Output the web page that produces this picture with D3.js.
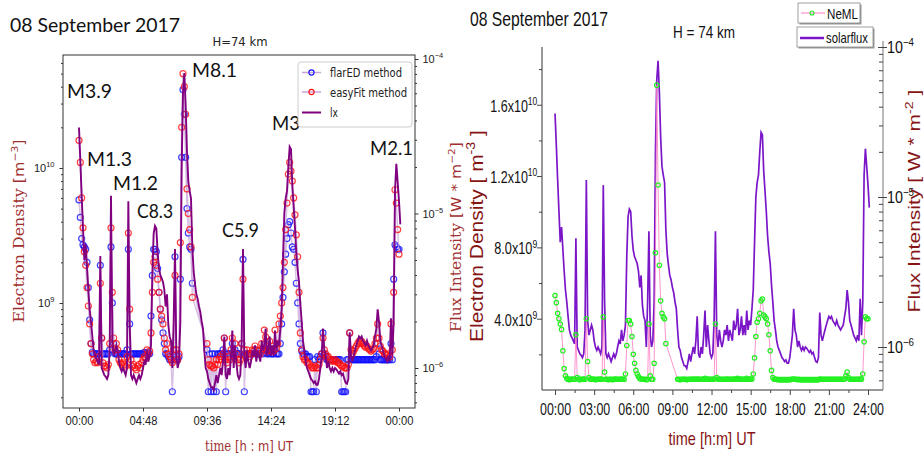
<!DOCTYPE html>
<html>
<head>
<meta charset="utf-8">
<script src="https://cdn.jsdelivr.net/npm/d3@7"></script>
<style>
body { margin: 0; background: #fff; }
svg { display: block; }
</style>
</head>
<body>
<script>
/* ---------- data (one sample every 0.1 h from 00:00) ---------- */
var hourStep = 0.1;

// GOES X-ray flux, units of 1e-6 W m^-2
var fluxIx = [
  36, 22, 13, 8, 5, 6.3, 4.5, 3.2, 2.4, 2.0,
  1.6, 1.3, 1.2, 1.15, 1.1, 1.05, 5.3, 1.0, 0.95, 0.9,
  0.88, 0.85, 0.9, 1.3, 13, 1.5, 1.2, 1.3, 1.4, 1.3,
  1.1, 1.0, 0.95, 1.0, 0.95, 0.9, 1.0, 12, 2.0, 0.9,
  0.85, 0.9, 0.85, 0.8, 0.85, 0.9, 0.85, 0.9, 1.0, 1.1,
  1.05, 1.3, 1.1, 1.2, 1.4, 4.0, 7.4, 8.3, 8.0, 5.5,
  4.4, 4.0, 3.8, 3.6, 3.2, 2.5, 3.0, 1.9, 1.6, 1.5,
  1.0, 2.0, 5.9, 1.2, 1.0, 1.1, 2.0, 20, 60, 81,
  50, 25, 16, 14, 12.5, 6, 4.2, 3.5, 3.0, 2.8,
  2.5, 2.3, 2.0, 1.8, 1.3, 1.0, 0.95, 0.85, 0.8, 0.75,
  0.75, 0.72, 0.8, 0.9, 0.8, 0.9, 1.0, 0.9, 1.1, 1.6,
  0.9, 0.85, 1.0, 0.9, 1.2, 1.75, 1.0, 1.4, 1.1, 0.9,
  0.85, 0.9, 1.5, 5.9, 1.2, 1.0, 1.3, 1.1, 1.0, 1.1,
  1.3, 1.2, 1.4, 1.1, 1.3, 1.2, 1.1, 1.5, 1.3, 1.4,
  1.8, 1.2, 1.3, 1.6, 1.2, 1.4, 1.2, 1.75, 1.3, 1.5,
  1.4, 1.8, 2.4, 5, 10, 12.5, 14, 20, 27, 26,
  15, 11, 8, 5.5, 4.3, 3.6, 2.6, 2.0, 1.5, 1.3,
  1.1, 1.0, 0.95, 0.9, 0.85, 0.83, 0.8, 0.82, 0.78, 0.78,
  0.85, 1.0, 1.2, 1.8, 1.3, 1.2, 1.0, 1.1, 1.0, 0.95,
  1.0, 0.95, 1.0, 0.98, 0.95, 0.92, 0.95, 0.9, 0.92, 0.85,
  0.8, 0.79, 0.85, 1.7, 1.2, 1.1, 1.2, 1.3, 1.4, 1.5,
  1.6, 1.55, 1.6, 1.5, 1.45, 1.4, 1.5, 1.4, 1.35, 1.3,
  1.35, 1.4, 1.6, 1.8, 2.4, 2.0, 1.5, 1.4, 1.3, 1.2,
  1.15, 1.1, 1.2, 1.1, 2.1, 1.2, 2.0, 14, 21, 16,
  12, 8.5
];

// electron density, units of 1e9 m^-3
var neFlarED = [
  5.8, 4.3, 3.0, 2.7, 2.6, 2.5, 2.0, 1.3, 0.75, 0.5,
  0.43, 0.42, 0.42, 0.42, 0.42, 0.42, 1.9, 0.55, 0.42, 0.42,
  0.42, 0.42, 0.42, 0.45, 2.6, 1.0, 0.5, 0.42, 0.42, 0.42,
  0.42, 0.42, 0.42, 0.42, 0.42, 0.42, 0.45, 2.5, 0.7, 0.42,
  0.42, 0.42, 0.42, 0.42, 0.42, 0.42, 0.42, 0.42, 0.42, 0.43,
  0.42, 0.43, 0.42, 0.42, 0.8, 1.6, 2.5, 2.5, 2.4, 1.8,
  1.2, 0.9, 0.75, 0.6, 0.5, 0.42, 0.42, 0.4, 0.38, 0.38,
  0.22, 0.38, 2.2, 0.4, 0.38, 0.4, 1.5, 12, 38, 25,
  12, 5, 3.3, 2.6, 2.5, 1.4, null, null, null, null,
  null, null, null, null, null, null, 0.45, 0.22, 0.42, 0.22,
  0.42, 0.22, 0.42, 0.22, 0.42, 0.42, 0.42, 0.42, 0.45, 0.55,
  0.22, 0.42, 0.42, 0.42, 0.42, 0.5, 0.42, 0.45, 0.42, 0.42,
  0.42, 0.42, 0.5, 2.1, 0.22, 0.42, 0.42, 0.42, 0.42, 0.42,
  0.42, 0.42, 0.45, 0.42, 0.42, 0.42, 0.42, 0.45, 0.42, 0.45,
  0.5, 0.42, 0.42, 0.45, 0.42, 0.42, 0.42, 0.45, 0.42, 0.42,
  0.42, 0.5, 0.7, 1.1, 1.7, 2.3, 3.0, 3.8, 4.0, 3.3,
  2.6, 2.5, 2.0, 1.4, 1.0, 0.7, 0.5, 0.44, 0.42, 0.42,
  0.42, 0.4, 0.4, 0.4, 0.22, 0.22, 0.22, 0.38, 0.22, 0.4,
  0.38, 0.4, 0.42, 0.6, 0.42, 0.4, 0.38, 0.38, 0.38, 0.38,
  0.38, 0.38, 0.38, 0.38, 0.38, 0.38, 0.38, 0.22, 0.22, 0.22,
  0.22, 0.38, 0.38, 0.6, 0.38, 0.38, 0.38, 0.38, 0.38, 0.38,
  0.38, 0.38, 0.38, 0.38, 0.38, 0.38, 0.38, 0.38, 0.38, 0.38,
  0.38, 0.38, 0.38, 0.4, 0.5, 0.42, 0.38, 0.38, 0.38, 0.38,
  0.38, 0.38, 0.38, 0.38, 0.5, 0.38, 1.5, 2.7, 2.6, 2.5,
  2.5, null
];

var neEasyFit = [
  16, 11, 6.0, 3.6, 2.4, 1.9, 1.3, 0.95, 0.7, 0.5,
  0.42, 0.38, 0.36, 0.37, 0.36, 0.4, 1.4, 0.55, 0.36, 0.34,
  0.34, 0.33, 0.35, 0.5, 3.6, 1.2, 0.55, 0.45, 0.5, 0.45,
  0.38, 0.36, 0.35, 0.36, 0.35, 0.34, 0.4, 3.3, 0.9, 0.38,
  0.34, 0.35, 0.33, 0.32, 0.34, 0.35, 0.33, 0.36, 0.38, 0.4,
  0.39, 0.45, 0.42, 0.44, 0.6, 1.2, 2.0, 2.2, 1.9, 1.5,
  1.2, 0.9, 0.8, 0.7, 0.55, 0.45, 0.5, 0.42, 0.4, 0.38,
  0.36, 0.45, 1.6, 0.45, 0.38, 0.42, 2.8, 20, 50, 40,
  25, 7, 4.6, 3.5, 2.6, 1.1, null, null, null, null,
  null, null, null, null, null, null, 0.5, 0.38, 0.35, 0.34,
  0.34, 0.33, 0.35, 0.38, 0.35, 0.38, 0.4, 0.38, 0.42, 0.55,
  0.38, 0.36, 0.4, 0.38, 0.45, 0.55, 0.4, 0.5, 0.42, 0.38,
  0.36, 0.38, 0.5, 1.5, 0.45, 0.4, 0.45, 0.42, 0.4, 0.42,
  0.45, 0.44, 0.48, 0.42, 0.45, 0.44, 0.42, 0.5, 0.46, 0.63,
  0.56, 0.44, 0.46, 0.52, 0.44, 0.48, 0.44, 0.63, 0.46, 0.5,
  0.7, 0.8, 1.0, 1.3, 2.0, 3.5, 5.5, 9, 11, 9.5,
  8, 6, 4.5, 3.2, 2.2, 1.2, 0.6, 0.45, 0.4, 0.38,
  0.38, 0.36, 0.36, 0.35, 0.34, 0.33, 0.33, 0.34, 0.33, 0.33,
  0.35, 0.38, 0.42, 0.55, 0.45, 0.42, 0.4, 0.4, 0.38, 0.37,
  0.38, 0.37, 0.38, 0.37, 0.36, 0.36, 0.35, 0.34, 0.34, 0.33,
  0.33, 0.33, 0.35, 0.6, 0.45, 0.42, 0.44, 0.46, 0.48, 0.5,
  0.52, 0.5, 0.52, 0.5, 0.48, 0.47, 0.48, 0.46, 0.45, 0.44,
  0.45, 0.46, 0.5, 0.55, 0.7, 0.55, 0.48, 0.45, 0.44, 0.42,
  0.42, 0.41, 0.42, 0.4, 0.7, 0.45, 1.2, 6.9, 5.5, 3.5,
  2.3, null
];

var neML = [
  5.3, 4.9, 4.3, 4.0, 3.7, 3.4, 2.2, 1.2, 0.8, 0.65,
  0.6, 0.58, 0.6, 0.62, 0.6, 0.6, 3.1, 0.7, 0.6, 0.58,
  0.6, 0.6, 0.62, 0.6, 4.0, 1.6, 0.7, 0.6, 0.6, 0.62,
  0.6, 0.58, 0.6, 0.6, 0.6, 0.62, 0.6, 4.1, 1.0, 0.6,
  0.6, 0.58, 0.6, 0.6, 0.58, 0.6, 0.62, 0.6, 0.6, 0.6,
  0.6, 0.62, 0.6, 0.6, 0.9, 2.5, 3.9, 3.9, 3.7, 3.0,
  2.0, 1.5, 1.1, 0.9, 0.75, 0.65, 0.62, 0.6, 0.6, 0.6,
  0.58, 0.6, 3.7, 0.8, 0.6, 0.6, 1.5, 7.7, 17.1, 11.5,
  7.0, 5.0, 4.3, 4.1, 4.0, 2.6, null, null, null, null,
  null, null, null, null, 0.6, 0.6, 0.58, 0.6, 0.6, 0.6,
  0.6, 0.58, 0.6, 0.6, 0.6, 0.6, 0.62, 0.6, 0.6, 0.62,
  0.6, 0.6, 0.6, 0.6, 0.6, 0.65, 0.6, 0.62, 0.6, 0.6,
  0.6, 0.6, 0.62, 3.7, 0.7, 0.6, 0.6, 0.6, 0.6, 0.6,
  0.6, 0.6, 0.62, 0.6, 0.6, 0.6, 0.6, 0.62, 0.6, 0.62,
  0.65, 0.6, 0.6, 0.62, 0.6, 0.6, 0.6, 0.65, 0.6, 0.62,
  0.6, 0.62, 0.9, 1.8, 3.0, 3.8, 4.0, 4.3, 5.0, 5.1,
  4.2, 4.1, 4.0, 3.7, 3.1, 2.2, 1.1, 0.7, 0.6, 0.6,
  0.6, 0.58, 0.58, 0.58, 0.58, 0.58, 0.58, 0.58, 0.58, 0.58,
  0.58, 0.6, 0.6, 0.62, 0.6, 0.6, 0.58, 0.6, 0.58, 0.58,
  0.58, 0.58, 0.58, 0.58, 0.58, 0.58, 0.58, 0.58, 0.58, 0.58,
  0.58, 0.58, 0.58, 0.62, 0.6, 0.6, 0.6, 0.6, 0.6, 0.6,
  0.6, 0.6, 0.6, 0.6, 0.6, 0.6, 0.6, 0.6, 0.6, 0.6,
  0.6, 0.6, 0.62, 0.8, 1.0, 0.7, 0.6, 0.6, 0.6, 0.6,
  0.6, 0.6, 0.6, 0.6, 0.62, 0.6, 0.9, 2.7, 4.1, 4.0,
  4.0, null
];

var flareNames = ["M3.9", "M8.1", "M1.3", "M1.2", "C8.3", "C5.9", "M3", "M2.1"];

var leftTickHours = [0, 4.8, 9.6, 14.4, 19.2, 24];
var leftTickLabels = ["00:00", "04:48", "09:36", "14:24", "19:12", "00:00"];
var rightTickHours = [0, 3, 6, 9, 12, 15, 18, 21, 24];
var rightTickLabels = ["00:00", "03:00", "06:00", "09:00", "12:00", "15:00", "18:00", "21:00", "24:00"];
var neMLTicks = [4e9, 8e9, 1.2e10, 1.6e10];
var neMLTickBase = ["4.0x10", "8.0x10", "1.2x10", "1.6x10"];
var neMLTickExp = ["9", "9", "10", "10"];

/* ---------- helpers ---------- */
var rows = fluxIx.map(function(f, i) {
  return {
    h: i * hourStep,
    flux: f * 1e-6,
    fd: neFlarED[i] == null ? null : neFlarED[i] * 1e9,
    ef: neEasyFit[i] == null ? null : neEasyFit[i] * 1e9,
    ml: neML[i] == null ? null : neML[i] * 1e9
  };
});

// plain single-run texts: stretch/shrink to a width
function fit(sel, w) {
  sel.attr("textLength", w).attr("lengthAdjust", "spacingAndGlyphs");
}
// texts with tspans: squeeze horizontally by a transform
function squeeze(text, w, pre) {
  var n = text.node().getComputedTextLength();
  text.attr("transform", (pre || "") + " scale(" + (w / n).toFixed(3) + ",1)");
}
// parts: {t, sup, down, family}
function richText(text, parts, size) {
  parts.forEach(function(p) {
    var ts = text.append("tspan").text(p.t);
    if (p.family) ts.attr("font-family", p.family);
    if (p.sup) ts.attr("font-size", size * 0.68).attr("dy", -size * 0.42);
    if (p.down) ts.attr("dy", size * 0.42);
  });
}
function isDecade(d) {
  var l = Math.log10(d);
  return Math.abs(l - Math.round(l)) < 1e-6;
}
var minus = "\u2212";

var svg = d3.select("body").append("svg")
  .attr("width", 924).attr("height", 460)
  .style("font-family", "'DejaVu Sans', sans-serif");

/* ================= LEFT PANEL (matplotlib style) ================= */
var L = { left: 63, right: 415, top: 55, bottom: 408 };
var xL = d3.scaleLinear().domain([-1.2, 25.2]).range([L.left, L.right]);
var yNeL = d3.scaleLog().domain([1.667e8, 6.87e10]).range([L.bottom, L.top]);
var yFluxL = d3.scaleLog().domain([5.51e-7, 1.061e-4]).range([L.bottom, L.top]);
var gL = svg.append("g");

// bottom axis
var axB = gL.append("g").attr("transform", "translate(0," + L.bottom + ")")
  .call(d3.axisBottom(xL).tickValues(leftTickHours).tickSize(3.5).tickPadding(4)
    .tickFormat(function(d, i) { return leftTickLabels[i]; }));
axB.selectAll("text").attr("font-size", 13).attr("fill", "#222").call(fit, 28);

// left log axis
var axLm = gL.append("g").attr("transform", "translate(" + L.left + ",0)")
  .call(d3.axisLeft(yNeL).tickValues([1e9, 1e10]).tickSize(3.5).tickPadding(5));
axLm.selectAll("text").attr("font-size", 11).attr("fill", "#222").each(function(d) {
  var t = d3.select(this).text(null);
  richText(t, [{ t: "10" }, { t: String(Math.round(Math.log10(d))), sup: true }], 11);
});
gL.append("g").attr("transform", "translate(" + L.left + ",0)")
  .call(d3.axisLeft(yNeL).tickValues(yNeL.ticks().filter(function(d) { return !isDecade(d); }))
    .tickSize(2).tickFormat(""));

// right log axis (flux)
var axRm = gL.append("g").attr("transform", "translate(" + L.right + ",0)")
  .call(d3.axisRight(yFluxL).tickValues([1e-6, 1e-5, 1e-4]).tickSize(3.5).tickPadding(4));
axRm.selectAll("text").attr("font-size", 11).attr("fill", "#222").each(function(d) {
  var t = d3.select(this).text(null);
  richText(t, [{ t: "10" }, { t: minus + Math.abs(Math.round(Math.log10(d))), sup: true }], 11);
});
gL.append("g").attr("transform", "translate(" + L.right + ",0)")
  .call(d3.axisRight(yFluxL).tickValues(yFluxL.ticks().filter(function(d) { return !isDecade(d); }))
    .tickSize(2).tickFormat(""));

gL.selectAll(".domain").remove();
gL.selectAll(".tick line").attr("stroke", "#333");
gL.append("rect").attr("x", L.left).attr("y", L.top)
  .attr("width", L.right - L.left).attr("height", L.bottom - L.top)
  .attr("fill", "none").attr("stroke", "#333").attr("stroke-width", 1);

// density series: faint connecting line + open circles
function seriesLeft(key, color) {
  var pts = rows.filter(function(d) { return d[key] != null; });
  gL.append("path").datum(pts)
    .attr("d", d3.line().x(function(d) { return xL(d.h); }).y(function(d) { return yNeL(d[key]); }))
    .attr("fill", "none").attr("stroke", "#c9a6da").attr("stroke-width", 1.5).attr("opacity", 0.7);
  gL.append("g").selectAll("circle").data(pts).enter().append("circle")
    .attr("cx", function(d) { return xL(d.h); })
    .attr("cy", function(d) { return yNeL(d[key]); })
    .attr("r", 3)
    .attr("fill", "none").attr("stroke", color).attr("stroke-width", 1.2).attr("opacity", 0.8);
}
seriesLeft("fd", "#1010ff");
seriesLeft("ef", "#ff1010");

gL.append("path").datum(rows)
  .attr("d", d3.line().x(function(d) { return xL(d.h); }).y(function(d) { return yFluxL(d.flux); }))
  .attr("fill", "none").attr("stroke", "#800080").attr("stroke-width", 1.9);

// flare class labels
var flareLabelPos = [[67, 98, 45], [192, 77, 45], [87, 166, 45], [113, 190, 45],
                     [137, 218, 36], [222, 237, 37], [272, 130, 28], [370, 155, 43]];
gL.append("g").selectAll("text").data(flareNames).enter().append("text")
  .attr("x", function(d, i) { return flareLabelPos[i][0]; })
  .attr("y", function(d, i) { return flareLabelPos[i][1]; })
  .attr("font-family", "Lato, 'Open Sans', sans-serif").attr("font-size", 20).attr("fill", "#111")
  .text(function(d) { return d; })
  .each(function(d, i) { fit(d3.select(this), flareLabelPos[i][2]); });

// legend
var lg = gL.append("g");
lg.append("rect").attr("x", 298).attr("y", 62).attr("width", 114).attr("height", 65).attr("rx", 3)
  .attr("fill", "#fff").attr("fill-opacity", 0.85).attr("stroke", "#ccc");
var legRows = [
  { label: "flarED method", color: "#1010ff", y: 72.5, w: 72 },
  { label: "easyFit method", color: "#ff1010", y: 92, w: 77 },
  { label: "lx", color: null, y: 112.5, w: 8 }
];
legRows.forEach(function(r) {
  if (r.color) {
    lg.append("line").attr("x1", 302).attr("x2", 321).attr("y1", r.y).attr("y2", r.y)
      .attr("stroke", "#c9a6da").attr("stroke-width", 1.5);
    lg.append("circle").attr("cx", 311.5).attr("cy", r.y).attr("r", 2.6)
      .attr("fill", "none").attr("stroke", r.color).attr("stroke-width", 1.1);
  } else {
    lg.append("line").attr("x1", 302).attr("x2", 321).attr("y1", r.y).attr("y2", r.y)
      .attr("stroke", "#800080").attr("stroke-width", 2);
  }
  lg.append("text").attr("x", 330).attr("y", r.y + 4.5).attr("font-size", 12.5).attr("fill", "#222")
    .text(r.label).call(fit, r.w);
});

// titles and axis titles
gL.append("text").attr("x", 10).attr("y", 32)
  .attr("font-family", "Lato, 'Open Sans', sans-serif").attr("font-size", 20).attr("fill", "#111")
  .text("08 September 2017").call(fit, 170);
gL.append("text").attr("x", 240).attr("y", 45.5).attr("text-anchor", "middle")
  .attr("font-size", 12).attr("fill", "#222").text("H=74 km").call(fit, 55);

var xt = gL.append("text").attr("text-anchor", "middle")
  .attr("font-size", 14).attr("fill", "#a0302f");
richText(xt, [{ t: "time ", family: "'DejaVu Serif', serif" }, { t: "[h : m] UT" }], 14);
squeeze(xt, 88, "translate(249,451)");

var ylt = gL.append("text").attr("text-anchor", "middle").attr("font-size", 14).attr("fill", "#a0302f");
richText(ylt, [{ t: "Electron Density ", family: "'DejaVu Serif', serif" }, { t: "[m" },
  { t: minus + "3", sup: true }, { t: "]", down: true }], 14);
squeeze(ylt, 183, "translate(24,231) rotate(-90)");

var yrt = gL.append("text").attr("text-anchor", "middle").attr("font-size", 14).attr("fill", "#a0302f");
richText(yrt, [{ t: "Flux Intensity ", family: "'DejaVu Serif', serif" }, { t: "[W * m" },
  { t: minus + "2", sup: true }, { t: "]", down: true }], 14);
squeeze(yrt, 190, "translate(461,237) rotate(-90)");

/* ================= RIGHT PANEL (Origin style) ================= */
var R = { left: 542, right: 883, top: 47, bottom: 390 };
var xR = d3.scaleLinear().domain([-1, 25.15]).range([R.left, R.right]);
var yNeR = d3.scaleLinear().domain([0, 1.924e10]).range([R.bottom, R.top]);
var yFluxR = d3.scaleLog().domain([5.17e-7, 1e-4]).range([R.bottom, R.top]);
var gR = svg.append("g").style("font-family", "'Liberation Sans', Arial, sans-serif");

// bottom axis
var rb = gR.append("g").attr("transform", "translate(0," + R.bottom + ")")
  .call(d3.axisBottom(xR).tickValues(rightTickHours).tickSize(5).tickPadding(9)
    .tickFormat(function(d, i) { return rightTickLabels[i]; }));
rb.selectAll("text").attr("font-size", 16).attr("fill", "#111").call(fit, 31);
rb.select(".domain").attr("d", "M" + R.left + ",0H" + R.right);
gR.append("g").attr("transform", "translate(0," + R.bottom + ")")
  .call(d3.axisBottom(xR).tickValues(rightTickHours.slice(1).map(function(d) { return d - 1.5; }))
    .tickSize(3).tickFormat("")).select(".domain").remove();

// left linear axis
var rl = gR.append("g").attr("transform", "translate(" + R.left + ",0)")
  .call(d3.axisLeft(yNeR).tickValues(neMLTicks).tickSize(5).tickPadding(1));
rl.select(".domain").attr("d", "M0," + R.bottom + "V" + R.top);
rl.selectAll(".tick text").attr("font-size", 16).attr("fill", "#111").each(function(d, i) {
  var t = d3.select(this).text(null).attr("dy", "0.4em");
  richText(t, [{ t: neMLTickBase[i] }, { t: neMLTickExp[i], sup: true }], 16);
  squeeze(t, neMLTickExp[i].length > 1 ? 47 : 43);
});
gR.append("g").attr("transform", "translate(" + R.left + ",0)")
  .call(d3.axisLeft(yNeR).tickValues([2e9, 6e9, 1e10, 1.4e10, 1.8e10]).tickSize(3).tickFormat(""))
  .select(".domain").remove();

// right log axis
var rr = gR.append("g").attr("transform", "translate(" + R.right + ",0)")
  .call(d3.axisRight(yFluxR).tickValues([1e-6, 1e-5, 1e-4]).tickSizeInner(-5).tickSizeOuter(0).tickPadding(9));
rr.select(".domain").attr("d", "M0," + (R.top - 6) + "V" + R.bottom).attr("stroke", "#777");
rr.selectAll(".tick line").attr("x2", 4).attr("x1", -5);
rr.selectAll(".tick text").attr("font-size", 16).attr("fill", "#111").each(function(d) {
  var t = d3.select(this).text(null).attr("x", 4.5);
  richText(t, [{ t: "10" }, { t: minus + Math.abs(Math.round(Math.log10(d))), sup: true }], 16);
  squeeze(t, 27);
});
gR.append("g").attr("transform", "translate(" + R.right + ",0)")
  .call(d3.axisLeft(yFluxR).tickValues(yFluxR.ticks().filter(function(d) { return !isDecade(d); }))
    .tickSize(4).tickFormat("")).select(".domain").remove();
gR.selectAll(".tick line").attr("stroke", "#444");
gR.selectAll(".domain").filter(function() { return d3.select(this).attr("stroke") !== "#777"; })
  .attr("stroke", "#333");

// solar flux line
gR.append("path").datum(rows)
  .attr("d", d3.line().x(function(d) { return xR(d.h); }).y(function(d) { return yFluxR(d.flux); }))
  .attr("fill", "none").attr("stroke", "#7a16c8").attr("stroke-width", 1.7);

// NeML: thin pink line plus open green circles
var mlPts = rows.filter(function(d) { return d.ml != null; });
gR.append("path").datum(mlPts)
  .attr("d", d3.line().x(function(d) { return xR(d.h); }).y(function(d) { return yNeR(d.ml); }))
  .attr("fill", "none").attr("stroke", "#ff7ac2").attr("stroke-width", 0.8);
gR.append("g").selectAll("circle").data(mlPts).enter().append("circle")
  .attr("cx", function(d) { return xR(d.h); })
  .attr("cy", function(d) { return yNeR(d.ml); })
  .attr("r", 2.2)
  .attr("fill", "none").attr("stroke", "#22f022").attr("stroke-width", 1.2);

// legend boxes
function legBox(x, y, w, h) {
  gR.append("rect").attr("x", x + 1.5).attr("y", y + 1.5).attr("width", w).attr("height", h).attr("fill", "#999");
  gR.append("rect").attr("x", x).attr("y", y).attr("width", w).attr("height", h)
    .attr("fill", "#fff").attr("stroke", "#888").attr("stroke-width", 0.8);
}
legBox(798, 3, 62, 20);
gR.append("line").attr("x1", 801).attr("x2", 825).attr("y1", 13).attr("y2", 13)
  .attr("stroke", "#ff7ac2").attr("stroke-width", 1);
gR.append("circle").attr("cx", 812).attr("cy", 13).attr("r", 2)
  .attr("fill", "none").attr("stroke", "#22f022").attr("stroke-width", 1.1);
gR.append("text").attr("x", 827).attr("y", 18.5).attr("font-size", 15).attr("fill", "#111")
  .text("NeML").call(fit, 31);
legBox(797, 27, 76, 20);
gR.append("line").attr("x1", 800).attr("x2", 824).attr("y1", 38).attr("y2", 38)
  .attr("stroke", "#7a16c8").attr("stroke-width", 2.5);
gR.append("text").attr("x", 826).attr("y", 43).attr("font-size", 15).attr("fill", "#111")
  .text("solarflux").call(fit, 42);

// titles
gR.append("text").attr("x", 470).attr("y", 25.5).attr("font-size", 21).attr("fill", "#111")
  .text("08 September 2017").call(fit, 138);
gR.append("text").attr("x", 704).attr("y", 38).attr("text-anchor", "middle")
  .attr("font-size", 16).attr("fill", "#111").text("H = 74 km").call(fit, 62);

var xtr = gR.append("text").attr("x", 712).attr("y", 445).attr("text-anchor", "middle")
  .attr("font-size", 19).attr("fill", "#861414").text("time [h:m] UT");
fit(xtr, 87);

var ytl = gR.append("text").attr("text-anchor", "middle").attr("font-size", 18).attr("fill", "#861414");
richText(ytl, [{ t: "Electron Density [ m" }, { t: "-3", sup: true }, { t: " ]", down: true }], 18);
squeeze(ytl, 212, "translate(483,236) rotate(-90)");

var ytr = gR.append("text").attr("text-anchor", "middle").attr("font-size", 17).attr("fill", "#861414");
richText(ytr, [{ t: "Flux Intensity [ W * m" }, { t: "-2", sup: true }, { t: " ]", down: true }], 17);
squeeze(ytr, 223, "translate(920,201) rotate(-90)");
</script>
</body>
</html>
